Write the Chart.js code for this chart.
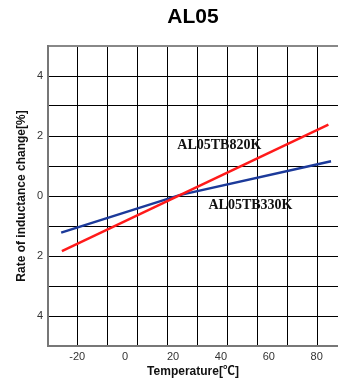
<!DOCTYPE html>
<html>
<head>
<meta charset="utf-8">
<script src="https://cdn.jsdelivr.net/npm/chart.js@4"></script>
<style>
  html, body { margin: 0; padding: 0; background: #fff; }
  canvas { display: block; }
</style>
</head>
<body>
<canvas id="chart" width="338" height="382"></canvas>
<script>
// --- DATA ---
const temps820 = [-26.4, 84.9];
const rate820 = [-1.84, 2.38];
const temps330 = [-26.7, 22.7, 86];
const rate330 = [-1.22, 0.03, 1.16];

const xTickLabels = [-20, 0, 20, 40, 60, 80];
const yTickLabels = [-4, -2, 0, 2, 4];

const X_MIN = -32.2, X_MAX = 88.9;
const Y_MIN = -5, Y_MAX = 5;
// vertical grid cells don't line up with the labels in the original
const X_GRID_STEP = 12.5;

const toPoints = (xs, ys) => xs.map((x, i) => ({ x: x, y: ys[i] }));

// grid ticks + label ticks on one axis
const xGridTicks = [];
for (let k = 1; X_MIN + k * X_GRID_STEP < X_MAX; k++) xGridTicks.push(X_MIN + k * X_GRID_STEP);
const allXTicks = xGridTicks.concat(xTickLabels).sort((a, b) => a - b);

const seriesLabels = {
    id: 'seriesLabels',
    afterDatasetsDraw(chart) {
        const { ctx, scales: { x, y } } = chart;
        const items = [
            { text: 'AL05TB820K', x: 21.8, y: 1.69 },
            { text: 'AL05TB330K', x: 34.8, y: -0.31 }
        ];
        ctx.save();
        ctx.font = 'bold 14px "Liberation Serif", "Times New Roman", serif';
        ctx.fillStyle = '#111';
        ctx.textAlign = 'left';
        ctx.textBaseline = 'middle';
        items.forEach(it => ctx.fillText(it.text, x.getPixelForValue(it.x), y.getPixelForValue(it.y)));
        ctx.restore();
    }
};

const tickFont = { family: 'Arial, "Liberation Sans", sans-serif', size: 11 };
const boldFont = { family: 'Arial, "Liberation Sans", "Noto Sans CJK JP", sans-serif', size: 12, weight: 'bold' };

new Chart(document.getElementById('chart'), {
    type: 'line',
    data: {
        datasets: [
            { label: 'AL05TB820K', data: toPoints(temps820, rate820), borderColor: '#ff1a1a', borderWidth: 2.5, pointRadius: 0, tension: 0, fill: false },
            { label: 'AL05TB330K', data: toPoints(temps330, rate330), borderColor: '#1c3a9a', borderWidth: 2.5, pointRadius: 0, tension: 0, fill: false }
        ]
    },
    options: {
        responsive: false,
        animation: false,
        layout: { padding: 0 },
        plugins: {
            legend: { display: false },
            tooltip: { enabled: false },
            title: {
                display: true,
                text: 'AL05',
                fullSize: false,
                color: '#000',
                font: { family: 'Arial, "Liberation Sans", sans-serif', size: 21, weight: 'bold' },
                padding: { top: 5, bottom: 15.8 }
            }
        },
        scales: {
            x: {
                type: 'linear',
                min: X_MIN,
                max: X_MAX,
                afterBuildTicks: (scale) => { scale.ticks = allXTicks.map(v => ({ value: v })); },
                afterFit: (scale) => { scale.height = 36; },
                ticks: {
                    autoSkip: false,
                    maxRotation: 0,
                    padding: 4,
                    color: '#333',
                    font: tickFont,
                    callback: (v) => xTickLabels.includes(v) ? String(v) : ''
                },
                grid: {
                    drawTicks: false,
                    color: (c) => (c.tick && xTickLabels.includes(c.tick.value)) ? 'rgba(0,0,0,0)' : '#000',
                    lineWidth: 1
                },
                border: { display: true, color: '#777', width: 2 },
                title: { display: true, text: 'Temperature[℃]', color: '#111', font: boldFont, padding: { top: 0, bottom: 3 } }
            },
            y: {
                type: 'linear',
                min: Y_MIN,
                max: Y_MAX,
                afterFit: (scale) => { scale.width = 48; },
                ticks: {
                    stepSize: 1,
                    padding: 5,
                    color: '#333',
                    font: tickFont,
                    callback: (v) => yTickLabels.includes(v) ? String(Math.abs(v)) : ''
                },
                grid: {
                    drawTicks: false,
                    color: (c) => (c.tick && c.tick.value === Y_MAX) ? '#888' : '#000',
                    lineWidth: (c) => (c.tick && c.tick.value === Y_MAX) ? 2 : 1
                },
                border: { display: true, color: '#777', width: 2 },
                title: { display: true, text: 'Rate of inductance change[%]', color: '#111', font: boldFont, padding: { top: 14, bottom: 0 } }
            }
        }
    },
    plugins: [seriesLabels]
});
</script>
</body>
</html>
